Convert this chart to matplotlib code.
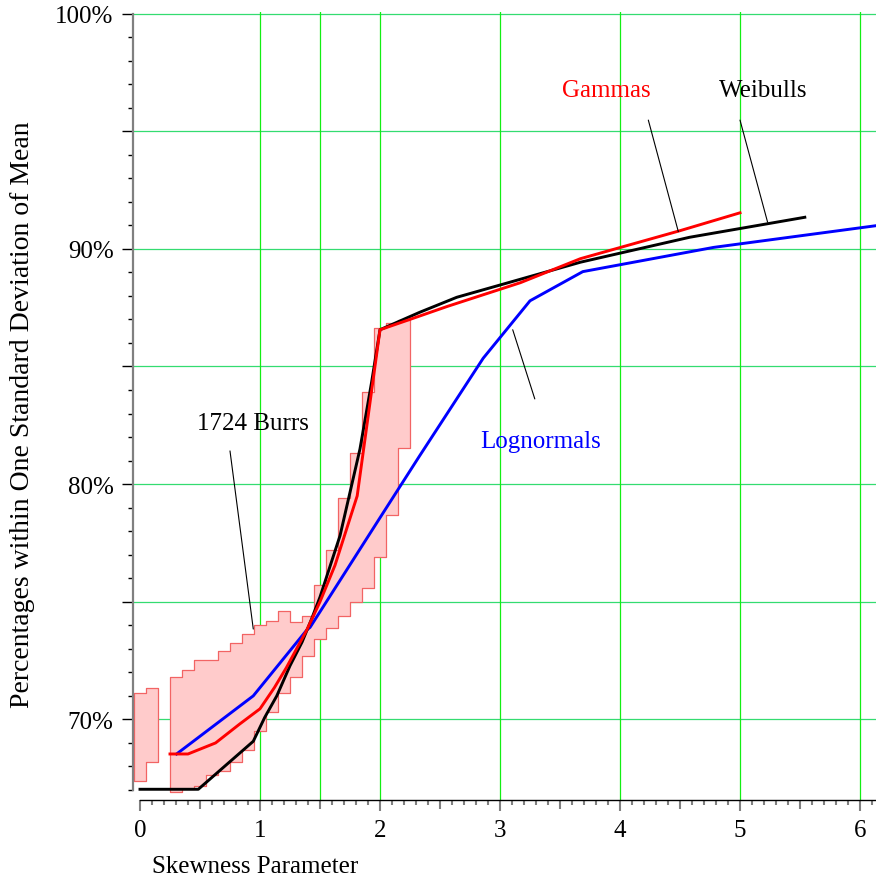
import numpy as np
import matplotlib
matplotlib.use("Agg")
import matplotlib.pyplot as plt
from matplotlib.ticker import FixedLocator, FuncFormatter

plt.rcParams['font.family'] = ['Liberation Serif', 'DejaVu Serif']

# ---- data ----
burr_centers = [0.0, 0.1, 0.3, 0.4, 0.5, 0.6, 0.7, 0.8, 0.9, 1.0, 1.1,
                1.2, 1.3, 1.4, 1.5, 1.6, 1.7, 1.8, 1.9, 2.0, 2.1, 2.2]
burr_upper = [71.12, 71.32, 71.81, 72.10, 72.52, 72.52, 72.89, 73.23, 73.63, 74.01, 74.19,
              74.60, 74.13, 74.40, 75.71, 77.21, 79.40, 81.31, 83.90, 86.62, 86.85, 86.99]
burr_lower = [67.39, 68.20, 66.93, 67.04, 67.18, 67.64, 67.82, 68.20, 68.70, 69.50, 70.30,
              71.12, 71.81, 72.71, 73.42, 73.87, 74.41, 75.00, 75.57, 76.89, 78.70, 81.52]
burr_width = 0.1

gamma_x = [0.25, 0.40, 0.63, 0.83, 1.0, 1.12, 1.22, 1.39, 1.5, 1.625, 1.81, 2.0,
           2.25, 2.56, 3.17, 3.67, 4.5, 5.0]
gamma_y = [68.53, 68.53, 69.0, 69.8, 70.45, 71.35, 72.2, 73.8, 75.0, 76.55, 79.5, 86.56,
           87.0, 87.55, 88.56, 89.58, 90.77, 91.53]

weibull_x = [0.0, 0.486, 0.944, 1.04, 1.14, 1.25, 1.35, 1.43, 1.5, 1.667, 1.833, 1.93, 2.0,
             2.33, 2.64, 3.0, 3.67, 4.58, 5.54]
weibull_y = [67.03, 67.03, 69.07, 70.09, 71.0, 72.28, 73.28, 74.27, 75.2, 77.81, 81.49, 84.33, 86.56,
             87.3, 87.94, 88.46, 89.43, 90.49, 91.34]

lognormal_x = [0.305, 0.944, 1.39, 1.417, 2.0, 2.33, 2.86, 3.25, 3.69, 4.78, 6.13]
lognormal_y = [68.53, 71.0, 73.8, 73.91, 78.57, 81.2, 85.35, 87.79, 89.03, 90.06, 90.98]

x_major = [0, 0.5, 1, 1.5, 2, 2.5, 3, 3.5, 4, 4.5, 5, 5.5, 6]
x_minor = list(np.round(np.arange(0, 6.15, 0.1), 2))
y_major = [70, 75, 80, 85, 90, 95, 100]
y_minor = list(range(67, 100))
vgrid = [1, 1.5, 2, 3, 4, 5, 6]
hgrid = [70, 75, 80, 85, 90, 95, 100]

# ---- figure ----
fig = plt.figure(figsize=(8.76, 8.79), dpi=100)
ax = fig.add_axes([133 / 876, 0.08908, 1 - 133 / 876, 0.89575])
ax.set_xlim(-0.0583, 6.1333)
ax.set_ylim(66.587, 100.05)

for g in hgrid:
    ax.axhline(g, color='#34dc70', lw=0.9, zorder=0)
for g in vgrid:
    ax.axvline(g, color='#13ee13', lw=0.9, zorder=0)

# Burr band: contiguous groups of bins drawn as stepped regions
c = np.array(burr_centers)
lo = np.array(burr_lower)
hi = np.array(burr_upper)
breaks = np.where(np.diff(c) > burr_width * 1.5)[0] + 1
for idx in np.split(np.arange(len(c)), breaks):
    xe = np.append(c[idx] - burr_width / 2, c[idx][-1] + burr_width / 2)
    ylo = np.append(lo[idx], lo[idx][-1])
    yhi = np.append(hi[idx], hi[idx][-1])
    ax.fill_between(xe, ylo, yhi, step='post', facecolor='#ffcbcb',
                    edgecolor='#f26464', lw=0.9, zorder=1)

ax.plot(lognormal_x, lognormal_y, color='#0000ff', lw=2.1, zorder=3)
ax.plot(weibull_x, weibull_y, color='black', lw=2.1, zorder=4)
ax.plot(gamma_x, gamma_y, color='#ff0000', lw=2.1, zorder=5)

# annotations
lp = dict(arrowstyle='-', lw=0.8, color='black', shrinkA=0, shrinkB=0)
ax.annotate('', xy=(4.486, 90.73), xytext=(4.236, 95.47), arrowprops=lp, zorder=6)
ax.annotate('', xy=(5.23, 91.13), xytext=(5.0, 95.47), arrowprops=lp, zorder=6)
ax.annotate('', xy=(3.29, 83.62), xytext=(3.106, 86.56), arrowprops=lp, zorder=6)
ax.annotate('', xy=(0.944, 73.84), xytext=(0.75, 81.41), arrowprops=lp, zorder=6)
fs = 18
ax.text(3.883, 96.49, 'Gammas', color='#ff0000', fontsize=fs, ha='center', va='baseline')
ax.text(5.19, 96.49, 'Weibulls', color='black', fontsize=fs, ha='center', va='baseline')
ax.text(3.342, 81.58, 'Lognormals', color='#0000ff', fontsize=fs, ha='center', va='baseline')
ax.text(0.942, 82.34, '1724 Burrs', color='black', fontsize=fs, ha='center', va='baseline')

# spines
for s in ['top', 'right']:
    ax.spines[s].set_visible(False)
ax.spines['left'].set_color('#808080')
ax.spines['left'].set_linewidth(1.6)
ax.spines['left'].set_bounds(67, 100)
ax.spines['bottom'].set_color('black')
ax.spines['bottom'].set_linewidth(1.0)
ax.spines['bottom'].set_bounds(0, 6.1333)

ax.xaxis.set_major_locator(FixedLocator(x_major))
ax.xaxis.set_minor_locator(FixedLocator(x_minor))
ax.xaxis.set_major_formatter(FuncFormatter(lambda v, p: f'{int(v)}' if abs(v - round(v)) < 1e-9 else ''))
ax.yaxis.set_major_locator(FixedLocator(y_major))
ax.yaxis.set_minor_locator(FixedLocator(y_minor))
ax.yaxis.set_major_formatter(FuncFormatter(lambda v, p: f'{int(v)}%' if int(round(v)) % 10 == 0 else ''))

ax.tick_params(axis='x', which='major', direction='out', length=8, width=1.5, color='#808080',
               labelsize=18, pad=6)
ax.tick_params(axis='x', which='minor', direction='out', length=3.6, width=1.5, color='#808080')
ax.tick_params(axis='y', which='major', direction='out', length=8, width=1.0, color='black',
               labelsize=18, pad=6)
ax.tick_params(axis='y', which='minor', direction='out', length=3.6, width=1.0, color='black')

for t, loc in zip(ax.xaxis.get_major_ticks(), x_major):
    if abs(loc - round(loc)) > 1e-9:
        t.tick1line.set_markersize(6.3)

fig.text(152 / 876, 1 - 873 / 879, 'Skewness Parameter', fontsize=18, ha='left', va='baseline')
fig.text(23 / 876, 1 - 414.5 / 879, 'Percentages within One Standard Deviation of Mean',
         fontsize=20, rotation=90, ha='center', va='center')

fig.savefig('out.png', dpi=100)
